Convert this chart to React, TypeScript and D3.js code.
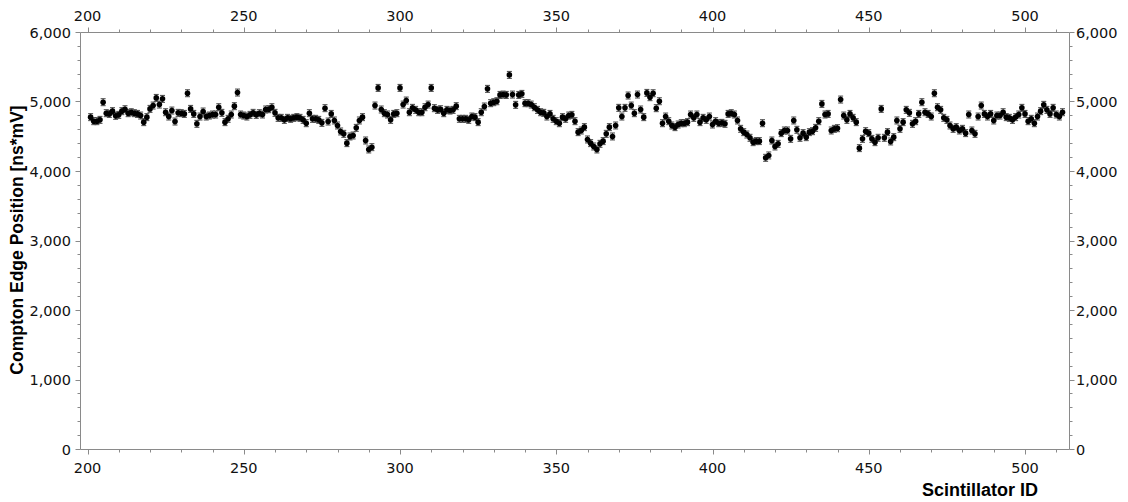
import React from "react";
import * as d3 from "d3";

// Scintillator IDs start at 201 and run consecutively
const FIRST_ID = 201;
// Compton edge position [ns*mV] per scintillator
const EDGE_VALUES: number[] = [
  4782, 4724, 4724, 4743, 4997, 4839, 4829, 4868, 4801, 4815,
  4868, 4896, 4839, 4853, 4839, 4829, 4805, 4710, 4782, 4901,
  4949, 5059, 4963, 5045, 4853, 4791, 4877, 4719, 4844, 4839,
  4829, 5126, 4901, 4829, 4686, 4791, 4863, 4791, 4805, 4820,
  4820, 4925, 4844, 4710, 4758, 4820, 4940, 5136, 4820, 4805,
  4791, 4815, 4844, 4815, 4839, 4820, 4892, 4896, 4925, 4844,
  4772, 4772, 4743, 4772, 4758, 4772, 4782, 4772, 4743, 4695,
  4839, 4758, 4758, 4743, 4700, 4911, 4719, 4829, 4734, 4662,
  4576, 4542, 4408, 4504, 4518, 4628, 4734, 4782, 4446, 4317,
  4350, 4949, 5203, 4892, 4839, 4820, 4743, 4829, 4839, 5203,
  4963, 5021, 4853, 4916, 4887, 4853, 4853, 4925, 4963, 5203,
  4911, 4887, 4896, 4839, 4887, 4877, 4887, 4940, 4758, 4758,
  4758, 4743, 4791, 4782, 4710, 4853, 4935, 5189, 4983, 4997,
  5011, 5102, 5107, 5102, 5390, 5107, 4959, 5102, 5117, 4983,
  4983, 4963, 4925, 4887, 4853, 4844, 4791, 4829, 4758, 4724,
  4695, 4782, 4758, 4805, 4815, 4724, 4566, 4590, 4638, 4461,
  4408, 4360, 4317, 4398, 4437, 4542, 4638, 4504, 4662, 4916,
  4791, 4916, 5093, 4949, 4839, 5107, 4892, 4782, 5131, 5069,
  5126, 4911, 5011, 4695, 4791, 4724, 4662, 4638, 4676, 4695,
  4695, 4710, 4820, 4772, 4820, 4710, 4772, 4743, 4791, 4676,
  4724, 4695, 4700, 4686, 4829, 4839, 4820, 4734, 4614, 4566,
  4532, 4485, 4422, 4437, 4437, 4695, 4197, 4231, 4446, 4360,
  4398, 4552, 4590, 4590, 4470, 4734, 4600, 4485, 4552, 4494,
  4566, 4580, 4628, 4724, 4973, 4820, 4829, 4590, 4614, 4623,
  5035, 4805, 4743, 4829, 4772, 4710, 4336, 4470, 4580, 4552,
  4470, 4422, 4485, 4901, 4485, 4566, 4432, 4494, 4734, 4614,
  4710, 4887, 4844, 4686, 4724, 4829, 4997, 4853, 4829, 4791,
  5126, 4925, 4887, 4772, 4743, 4662, 4614, 4638, 4590, 4614,
  4552, 4820, 4590, 4542, 4791, 4949, 4829, 4791, 4829, 4734,
  4805, 4805, 4853, 4782, 4772, 4743, 4782, 4820, 4916, 4829,
  4724, 4758, 4695, 4791, 4868, 4959, 4887, 4829, 4916, 4820,
  4791, 4853,
];
// Uncertainty of each point [ns*mV]
const EDGE_ERROR = 50;

const X_MAJOR = [200, 250, 300, 350, 400, 450, 500];
const Y_MAJOR = [0, 1000, 2000, 3000, 4000, 5000, 6000];

const W = 1128;
const H = 502;
const LEFT = 80.5;
const RIGHT = 1069.5;
const TOP = 32.5;
const BOTTOM = 449.5;

const AXIS_COLOR = "#8a8a8a";
const TICK_FONT = "'DejaVu Sans', Verdana, sans-serif";
const TITLE_FONT = "'Liberation Sans', Arial, Helvetica, sans-serif";

export default function App() {
  const x = d3.scaleLinear().domain([197.76, 514.24]).range([LEFT, RIGHT]);
  const y = d3.scaleLinear().domain([0, 6000]).range([BOTTOM, TOP]);
  const fmt = d3.format(",");

  const xMinor = d3.range(200, 515, 10).filter((v) => !X_MAJOR.includes(v));
  const yMinor = d3.range(0, 6001, 200).filter((v) => !Y_MAJOR.includes(v));

  const points = EDGE_VALUES.map((v, i) => ({ id: FIRST_ID + i, v }));

  const major = 5;
  const minor = 3;

  return (
    <svg
      width={W}
      height={H}
      style={{ position: "absolute", left: 0, top: 0, background: "#fff" }}
    >
      {/* frame */}
      <g stroke={AXIS_COLOR} strokeWidth={1} fill="none">
        <line x1={LEFT} x2={RIGHT} y1={TOP} y2={TOP} />
        <line x1={LEFT} x2={RIGHT} y1={BOTTOM} y2={BOTTOM} />
        <line x1={LEFT} x2={LEFT} y1={TOP} y2={BOTTOM} />
        <line x1={RIGHT} x2={RIGHT} y1={TOP} y2={BOTTOM} />
        {X_MAJOR.map((t) => {
          const px = Math.round(x(t)) + 0.5;
          return (
            <g key={"xm" + t}>
              <line x1={px} x2={px} y1={BOTTOM} y2={BOTTOM + major} />
              <line x1={px} x2={px} y1={TOP} y2={TOP - major} />
            </g>
          );
        })}
        {xMinor.map((t) => {
          const px = Math.round(x(t)) + 0.5;
          return (
            <g key={"xn" + t}>
              <line x1={px} x2={px} y1={BOTTOM} y2={BOTTOM + minor} />
              <line x1={px} x2={px} y1={TOP} y2={TOP - minor} />
            </g>
          );
        })}
        {Y_MAJOR.map((t) => {
          const py = Math.round(y(t) - 0.5) + 0.5;
          return (
            <g key={"ym" + t}>
              <line x1={LEFT} x2={LEFT - major} y1={py} y2={py} />
              <line x1={RIGHT} x2={RIGHT + major} y1={py} y2={py} />
            </g>
          );
        })}
        {yMinor.map((t) => {
          const py = Math.round(y(t) - 0.5) + 0.5;
          return (
            <g key={"yn" + t}>
              <line x1={LEFT} x2={LEFT - minor} y1={py} y2={py} />
              <line x1={RIGHT} x2={RIGHT + minor} y1={py} y2={py} />
            </g>
          );
        })}
      </g>

      {/* tick labels */}
      <g fontFamily={TICK_FONT} fontSize={14.5} fill="#111">
        {X_MAJOR.map((t) => (
          <g key={"xl" + t}>
            <text x={x(t)} y={473} textAnchor="middle">
              {t}
            </text>
            <text x={x(t)} y={21} textAnchor="middle">
              {t}
            </text>
          </g>
        ))}
        {Y_MAJOR.map((t) => (
          <g key={"yl" + t}>
            <text x={71} y={y(t)} dy="0.35em" textAnchor="end">
              {fmt(t)}
            </text>
            <text x={1076} y={y(t)} dy="0.35em" textAnchor="start">
              {fmt(t)}
            </text>
          </g>
        ))}
      </g>

      {/* titles */}
      <text
        x={1038}
        y={496}
        textAnchor="end"
        fontFamily={TITLE_FONT}
        fontWeight="bold"
        fontSize={18}
        fill="#000"
      >
        Scintillator ID
      </text>
      <text
        transform={`translate(23, 240) rotate(-90)`}
        textAnchor="middle"
        fontFamily={TITLE_FONT}
        fontWeight="bold"
        fontSize={17.5}
        fill="#000"
      >
        Compton Edge Position [ns*mV]
      </text>

      {/* error bars */}
      <g stroke="#444" strokeWidth={1} fill="none">
        {points.map((p) => {
          const cx = x(p.id);
          const y1 = y(p.v + EDGE_ERROR);
          const y2 = y(p.v - EDGE_ERROR);
          return (
            <g key={"e" + p.id}>
              <line x1={cx} x2={cx} y1={y1} y2={y2} />
              <line x1={cx - 2.5} x2={cx + 2.5} y1={y1} y2={y1} />
              <line x1={cx - 2.5} x2={cx + 2.5} y1={y2} y2={y2} />
            </g>
          );
        })}
      </g>
      {/* points */}
      <g fill="#000">
        {points.map((p) => (
          <circle key={"p" + p.id} cx={x(p.id)} cy={y(p.v)} r={2.8} />
        ))}
      </g>
    </svg>
  );
}
